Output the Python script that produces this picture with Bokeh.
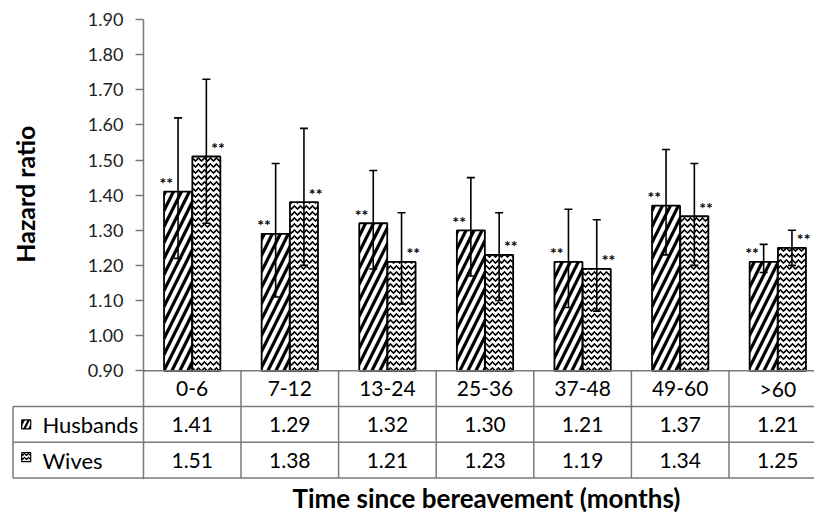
import numpy as np
from bokeh.plotting import figure
from bokeh.models import (ColumnDataSource, Range1d, LinearAxis, FixedTicker,
                          PrintfTickFormatter, Whisker, TeeHead, Title)
from bokeh.core.properties import value
from bokeh.embed import file_html
from bokeh.resources import INLINE

# ---------------- data ----------------
categories = ["0-6", "7-12", "13-24", "25-36", "37-48", "49-60", ">60"]
husbands = [1.41, 1.29, 1.32, 1.30, 1.21, 1.37, 1.21]
wives = [1.51, 1.38, 1.21, 1.23, 1.19, 1.34, 1.25]
husbands_upper = [1.62, 1.49, 1.47, 1.45, 1.36, 1.53, 1.26]
husbands_lower = [1.22, 1.11, 1.19, 1.17, 1.08, 1.23, 1.18]
wives_upper = [1.73, 1.59, 1.35, 1.35, 1.33, 1.49, 1.30]
wives_lower = [1.32, 1.20, 1.09, 1.10, 1.07, 1.20, 1.20]
husbands_sig = ["**", "**", "**", "**", "**", "**", "**"]
wives_sig = ["**", "**", "**", "**", "**", "**", "**"]
series_names = ["Husbands", "Wives"]
y_ticks = [0.90, 1.00, 1.10, 1.20, 1.30, 1.40, 1.50, 1.60, 1.70, 1.80, 1.90]
y_title = "Hazard ratio"
x_title = "Time since bereavement (months)"

# ---------------- layout constants ----------------
FONT = "Lato"
GRAY = "#7a7a7a"
BASE = y_ticks[0]
TOP = y_ticks[-1]
PX_X = 97.6      # pixels per category
PX_Y = 351.0     # pixels per hazard-ratio unit
ROW_H = 35.7 / PX_Y
n = len(categories)
xs = np.arange(n)
DODGE = 0.145
BAR_W = 0.287
LAB_OFF = 0.12

table_left = -0.5 - 130.4 / PX_X
x_start = table_left - 1.5 / PX_X
frame_w = 803
x_end = x_start + frame_w / PX_X
y_start = BASE - 3 * ROW_H - 1.5 / PX_Y
y_end = TOP + 12 / PX_Y
frame_h = int(round((y_end - y_start) * PX_Y))

p = figure(frame_width=frame_w, frame_height=frame_h,
           x_range=Range1d(x_start, x_end), y_range=Range1d(y_start, y_end),
           x_axis_type=None, y_axis_type=None,
           output_backend="svg", toolbar_location=None,
           min_border_left=11, min_border_right=0, min_border_top=7,
           min_border_bottom=28, outline_line_color=None,
           background_fill_color="white", border_fill_color="white")

# y axis placed at the first category boundary
yaxis = LinearAxis(fixed_location=-0.5, bounds=(y_start, TOP),
                   ticker=FixedTicker(ticks=y_ticks),
                   formatter=PrintfTickFormatter(format="%.2f"),
                   major_tick_out=8, major_tick_in=0,
                   minor_tick_line_color=None,
                   axis_line_color=GRAY, axis_line_width=1.5,
                   major_tick_line_color=GRAY, major_tick_line_width=1.5,
                   major_label_text_font=FONT,
                   major_label_text_font_size="18px",
                   major_label_text_color="#222222",
                   major_label_standoff=12)
p.add_layout(yaxis, "left")

# ---------------- bars ----------------
src_h = ColumnDataSource(dict(x=xs - DODGE, top=husbands, upper=husbands_upper,
                              lower=husbands_lower, lab=husbands_sig,
                              lx=xs - DODGE - LAB_OFF,
                              ly=np.array(husbands) + 9 / PX_Y))
src_w = ColumnDataSource(dict(x=xs + DODGE, top=wives, upper=wives_upper,
                              lower=wives_lower, lab=wives_sig,
                              lx=xs + DODGE + LAB_OFF,
                              ly=np.array(wives) + 9 / PX_Y))

bar_h_style = dict(fill_color="white", line_color="black", line_width=1.8,
                   hatch_pattern="/", hatch_color="black", hatch_weight=3.2,
                   hatch_scale=16)
bar_w_style = dict(fill_color="white", line_color="black", line_width=1.8,
                   hatch_pattern="v", hatch_color="black", hatch_weight=1.6,
                   hatch_scale=6)

p.vbar(x="x", top="top", bottom=BASE, width=BAR_W, source=src_h, **bar_h_style)
p.vbar(x="x", top="top", bottom=BASE, width=BAR_W, source=src_w, **bar_w_style)

for src in (src_h, src_w):
    wk = Whisker(base="x", upper="upper", lower="lower", source=src,
                 line_color="black", line_width=1.6, level="annotation",
                 upper_head=TeeHead(size=8, line_color="black", line_width=1.6),
                 lower_head=TeeHead(size=8, line_color="black", line_width=1.6))
    p.add_layout(wk)
    p.text(x="lx", y="ly", text="lab", source=src, text_font=value(FONT),
           text_font_style="bold", text_font_size="16px", text_align="center",
           text_baseline="alphabetic", text_color="black")

# ---------------- data table ----------------
row_edges = [BASE - k * ROW_H for k in range(4)]
hx0 = [-0.5] + [table_left] * 3
hx1 = [x_end] * 4
p.segment(x0=hx0, y0=row_edges, x1=hx1, y1=row_edges, line_color=GRAY, line_width=1.5)
vx = [-0.5 + k for k in range(1, n + 1)] + [table_left]
vy0 = [row_edges[3]] * n + [row_edges[3]]
vy1 = [row_edges[0]] * n + [row_edges[1]]
p.segment(x0=vx, y0=vy0, x1=vx, y1=vy1, line_color=GRAY, line_width=1.5)

row_mid = [BASE - (k + 0.5) * ROW_H for k in range(3)]
cell_style = dict(text_font=value(FONT), text_font_size="21px", text_align="center",
                  text_baseline="middle", text_color="black")
p.text(x=xs, y=[row_mid[0]] * n, text=categories, **cell_style)
p.text(x=xs, y=[row_mid[1]] * n, text=["%.2f" % v for v in husbands], **cell_style)
p.text(x=xs, y=[row_mid[2]] * n, text=["%.2f" % v for v in wives], **cell_style)

# legend keys inside the table
key_x = table_left + 13.2 / PX_X
p.rect(x=[key_x], y=[row_mid[1]], width=9, height=9, width_units="screen",
       height_units="screen", fill_color="white", line_color="black", line_width=1.2,
       hatch_pattern="/", hatch_color="black", hatch_weight=2.2, hatch_scale=10)
p.rect(x=[key_x], y=[row_mid[2] + 3 / PX_Y], width=9, height=9, width_units="screen",
       height_units="screen", fill_color="white", line_color="black", line_width=1.2,
       hatch_pattern="v", hatch_color="black", hatch_weight=1.3, hatch_scale=4)
name_x = table_left + 29.4 / PX_X
p.text(x=[name_x, name_x], y=[row_mid[1], row_mid[2]], text=series_names,
       text_font=value(FONT), text_font_size="22px", text_align="left",
       text_baseline="middle", text_color="black")

# y-axis title
p.text(x=[-0.5 - 118.7 / PX_X], y=[BASE + 176.5 / PX_Y], text=[y_title], angle=np.pi / 2,
       text_font=value(FONT), text_font_style="bold", text_font_size="25px",
       text_align="center", text_baseline="middle", text_color="black")

# x-axis title below the table
p.add_layout(Title(text=x_title, align="left", offset=281,
                   text_font=FONT, text_font_style="bold", text_font_size="26px",
                   text_color="black", standoff=1), "below")

open("out.html", "w").write(file_html(p, INLINE))
